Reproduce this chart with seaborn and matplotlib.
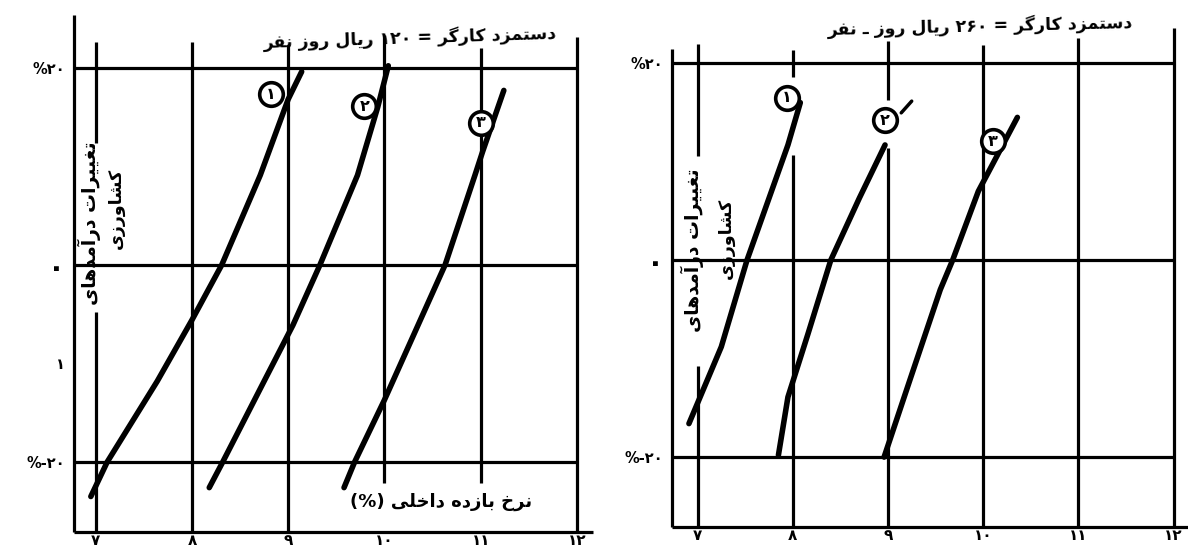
import matplotlib
matplotlib.use("Agg")
import matplotlib.pyplot as plt
import seaborn as sns
import pandas as pd

# ---------------- data ----------------
irr_ticks = [7, 8, 9, 10, 11, 12]
irr_tick_labels = ["۷", "۸", "۹", "۱۰", "۱۱", "۱۲"]
change_ticks_w120 = [20, 0, -10, -20]
change_tick_labels_w120 = ["%۲۰", "۰", "۱", "%-۲۰"]
change_ticks_w260 = [20, 0, -20]
change_tick_labels_w260 = ["%۲۰", "۰", "%-۲۰"]
panel_titles = ["دستمزد کارگر = ۱۲۰ ریال روز نفر",
                "دستمزد کارگر = ۲۶۰ ریال روز ـ نفر"]
y_label_line1 = "تغییرات درآمدهای"
y_label_line2 = "کشاورزی"
x_label = "نرخ بازده داخلی (%)"
curve_ids = ["۱", "۲", "۳"]

w120_c1_irr = [6.95, 7.12, 7.64, 8.00, 8.31, 8.71, 9.00, 9.14]
w120_c1_chg = [-23.5, -20.0, -11.8, -5.6, 0.0, 9.1, 16.8, 19.6]
w120_c2_irr = [8.18, 8.32, 8.75, 9.05, 9.33, 9.72, 9.93, 10.04]
w120_c2_chg = [-22.6, -20.0, -11.8, -6.1, 0.0, 9.1, 16.0, 20.2]
w120_c3_irr = [9.58, 9.69, 10.00, 10.63, 10.94, 11.02, 11.24]
w120_c3_chg = [-22.6, -20.0, -13.7, 0.0, 9.1, 11.5, 17.7]

w260_c1_irr = [6.91, 7.25, 7.52, 7.95, 8.08]
w260_c1_chg = [-16.6, -8.8, 0.0, 11.7, 16.0]
w260_c2_irr = [7.85, 7.95, 8.16, 8.40, 8.70, 8.97]
w260_c2_chg = [-19.8, -13.9, -7.5, 0.0, 6.3, 11.7]
w260_c3_irr = [8.96, 9.23, 9.55, 9.68, 9.95, 10.36]
w260_c3_chg = [-20.0, -12.2, -3.0, 0.0, 7.0, 14.5]

rows = []
for panel, curves in (("w120", [(w120_c1_irr, w120_c1_chg), (w120_c2_irr, w120_c2_chg), (w120_c3_irr, w120_c3_chg)]),
                      ("w260", [(w260_c1_irr, w260_c1_chg), (w260_c2_irr, w260_c2_chg), (w260_c3_irr, w260_c3_chg)])):
    for cid, (xs, ys) in zip(curve_ids, curves):
        for k, (xv, yv) in enumerate(zip(xs, ys)):
            rows.append(dict(panel=panel, curve=cid, irr=xv, change=yv, order=k))
df = pd.DataFrame(rows)

# ---------------- Persian shaping (presentation forms + visual order) ----------------
FORMS = {
    'ا': ('\uFE8D', '\uFE8E', None, None), 'آ': ('\uFE81', '\uFE82', None, None),
    'ب': ('\uFE8F', '\uFE90', '\uFE91', '\uFE92'), 'ت': ('\uFE95', '\uFE96', '\uFE97', '\uFE98'),
    'خ': ('\uFEA5', '\uFEA6', '\uFEA7', '\uFEA8'), 'د': ('\uFEA9', '\uFEAA', None, None),
    'ر': ('\uFEAD', '\uFEAE', None, None), 'ز': ('\uFEAF', '\uFEB0', None, None),
    'س': ('\uFEB1', '\uFEB2', '\uFEB3', '\uFEB4'), 'ش': ('\uFEB5', '\uFEB6', '\uFEB7', '\uFEB8'),
    'غ': ('\uFECD', '\uFECE', '\uFECF', '\uFED0'), 'ف': ('\uFED1', '\uFED2', '\uFED3', '\uFED4'),
    'ل': ('\uFEDD', '\uFEDE', '\uFEDF', '\uFEE0'), 'م': ('\uFEE1', '\uFEE2', '\uFEE3', '\uFEE4'),
    'ن': ('\uFEE5', '\uFEE6', '\uFEE7', '\uFEE8'), 'ه': ('\uFEE9', '\uFEEA', '\uFEEB', '\uFEEC'),
    'و': ('\uFEED', '\uFEEE', None, None), 'ی': ('\uFBFC', '\uFBFD', '\uFBFE', '\uFBFF'),
    'ک': ('\uFB8E', '\uFB8F', '\uFB90', '\uFB91'), 'گ': ('\uFB92', '\uFB93', '\uFB94', '\uFB95'),
}
TATWEEL = 'ـ'


def _dual(c):
    return c == TATWEEL or (c in FORMS and FORMS[c][2] is not None)


def _letter(c):
    return c == TATWEEL or c in FORMS


def fa(s):
    out = []
    for i, c in enumerate(s):
        if c not in FORMS:
            out.append(c)
            continue
        prev = s[i - 1] if i > 0 else ''
        nxt = s[i + 1] if i + 1 < len(s) else ''
        jp = _dual(prev)
        jn = _dual(c) and _letter(nxt)
        iso, fin, ini, med = FORMS[c]
        out.append(med if (jp and jn) else fin if jp else ini if jn else iso)
    rev = ''.join(out)[::-1]
    res, run = [], []
    for c in rev:
        if c.isdigit():
            run.append(c)
        else:
            if run:
                res.extend(run[::-1]); run = []
            res.append({'(': ')', ')': '('}.get(c, c))
    res.extend(run[::-1])
    return ''.join(res)


# ---------------- style & layout ----------------
sns.set_theme(style="white")
INK = '#000000'
plt.rcParams['font.family'] = ['DejaVu Sans']
plt.rcParams['font.weight'] = 'bold'
plt.rcParams['text.color'] = INK
plt.rcParams['xtick.color'] = INK
plt.rcParams['ytick.color'] = INK
plt.rcParams['axes.labelcolor'] = INK
LW_GRID = 2.3
LW_CURVE = 4.0
W, H = 1188, 549

LAYOUT = {
    "w120": dict(px=(73.5, 577.0, 15.0, 532.0), xlim=(6.77, 12.0), ylim=(-27.1, 25.35),
                 left_top=25.35, right_top=23.1, bottom_end=12.17,
                 vsegs={7: [(12.4, 22.6), (-27.1, -4.8)], 8: [(-27.1, 22.6)], 9: [(-27.1, 22.3)],
                        10: [(-22.1, 23.3)], 11: [(-22.1, 22.0)]},
                 circles=[(8.82, 17.3), (9.79, 16.1), (11.0, 14.4)],
                 title_xy=(10.27, 23.1), title_rot=1.8,
                 ylab1_xy=(6.93, 4.2), ylab2_xy=(7.21, 5.7),
                 xlab_xy=(10.59, -24.0), stroke=None),
    "w260": dict(px=(671.8, 1173.5, 13.0, 527.0), xlim=(6.73, 12.0), ylim=(-27.1, 25.1),
                 left_top=21.4, right_top=23.6, bottom_end=12.15,
                 vsegs={7: [(10.6, 22.0), (-27.1, -10.8)], 8: [(18.6, 21.3), (-27.1, 10.7)],
                        9: [(16.3, 22.3), (-27.1, 11.4)], 10: [(-27.1, 21.8)], 11: [(-27.1, 22.6)]},
                 circles=[(7.94, 16.5), (8.97, 14.2), (10.1, 12.1)],
                 title_xy=(9.97, 23.8), title_rot=1.3,
                 ylab1_xy=(6.95, 1.0), ylab2_xy=(7.30, 2.2),
                 xlab_xy=None, stroke=((9.14, 14.96), (9.25, 16.15))),
}
TICKS = {"w120": (change_ticks_w120, change_tick_labels_w120),
         "w260": (change_ticks_w260, change_tick_labels_w260)}

fig = plt.figure(figsize=(W / 100, H / 100), dpi=100)
fig.patch.set_facecolor('white')

for (panel, L), title in zip(LAYOUT.items(), panel_titles):
    x0, x1, ytop, ybot = L["px"]
    ax = fig.add_axes([x0 / W, (H - ybot) / H, (x1 - x0) / W, (ybot - ytop) / H])
    ax.set_facecolor('none')
    ax.set_xlim(*L["xlim"]); ax.set_ylim(*L["ylim"])
    for s in ax.spines.values():
        s.set_visible(False)
    xa, xb = L["xlim"]; ya = L["ylim"][0]
    kw = dict(color=INK, lw=LW_GRID, clip_on=False, solid_capstyle='butt', zorder=2)
    # frame
    ax.plot([xa, xa], [ya, L["left_top"]], **kw)
    ax.plot([xb, xb], [ya, L["right_top"]], **kw)
    ax.plot([xa, L["bottom_end"]], [ya, ya], **kw)
    # horizontal reference lines
    for yv in (20, 0, -20):
        ax.plot([xa, xb], [yv, yv], **kw)
    # vertical grid lines
    for xv, segs in L["vsegs"].items():
        for (s0, s1) in segs:
            ax.plot([xv, xv], [s0, s1], **kw)

    # curves
    sub = df[df.panel == panel].sort_values(["curve", "order"])
    sns.lineplot(data=sub, x="irr", y="change", units="curve", estimator=None, sort=False,
                 color=INK, lw=LW_CURVE, ax=ax, legend=False, zorder=3)
    for ln in ax.lines[-3:]:
        ln.set_solid_capstyle('round')

    # circled curve numbers
    for cid, (cx, cy) in zip(curve_ids, L["circles"]):
        ax.plot([cx], [cy], marker='o', ms=17, mfc='white', mec=INK, mew=2.6, zorder=5)
        ax.text(cx, cy, cid, ha='center', va='center', fontsize=11.5, fontweight='bold',
                color=INK, zorder=6)
    if L["stroke"]:
        (sx0, sy0), (sx1, sy1) = L["stroke"]
        ax.plot([sx0, sx1], [sy0, sy1], color=INK, lw=2.5, zorder=4)

    # ticks
    yt, ytl = TICKS[panel]
    ax.set_yticks(yt)
    ax.set_yticklabels(ytl, fontsize=10.5, fontweight='bold', color=INK)
    for lab in ax.get_yticklabels():
        if lab.get_text() == "۰":
            lab.set_fontsize(20)
    ax.set_xticks(irr_ticks)
    ax.set_xticklabels(irr_tick_labels, fontsize=11, fontweight='bold', color=INK)
    ax.tick_params(axis='y', direction='out', length=4, width=2, pad=2, colors=INK)
    ax.tick_params(axis='x', direction='out', length=2, width=2, pad=-1.5, colors=INK)
    ax.set_xlabel(''); ax.set_ylabel('')

    # texts
    tx, ty = L["title_xy"]
    ax.text(tx, ty, fa(title), ha='center', va='center', fontsize=12.5, fontweight='bold',
            rotation=L["title_rot"], color=INK, clip_on=False)
    ax.text(*L["ylab1_xy"], fa(y_label_line1), rotation=90, ha='center', va='center',
            fontsize=13.5, fontweight='bold', color=INK)
    ax.text(*L["ylab2_xy"], fa(y_label_line2), rotation=90, ha='center', va='center',
            fontsize=12.5, fontweight='bold', color=INK)
    if L["xlab_xy"]:
        ax.text(*L["xlab_xy"], fa(x_label), ha='center', va='center', fontsize=13,
                fontweight='bold', color=INK)

fig.savefig("out.png", dpi=100, facecolor='white')
